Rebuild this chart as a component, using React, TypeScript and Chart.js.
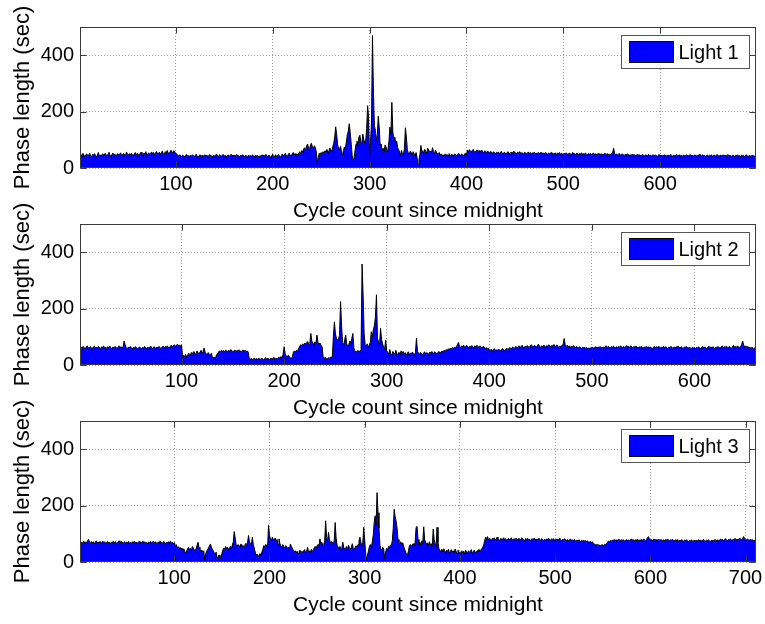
import React, { useEffect, useRef } from 'react';
import { Chart, registerables } from 'chart.js';

Chart.register(...registerables);

// Phase length (sec) of each signal cycle, one value per cycle since midnight.
const light1 = [
  44,48,41,52,46,39,47,50,43,45,53,42,40,49,46,51,44,38,47,55,43,46,41,50,48,
  45,52,47,43,49,56,44,41,48,53,46,50,42,47,51,45,49,54,43,48,52,46,44,57,49,
  47,51,45,53,48,44,50,55,46,52,49,43,51,56,47,45,53,50,58,46,49,54,48,52,57,
  50,55,47,53,59,49,52,56,48,54,60,51,47,58,53,62,55,50,57,63,54,58,61,56,52,
  49,45,42,47,44,40,46,43,39,45,48,42,44,38,46,41,47,43,40,45,49,42,38,44,47,
  41,45,39,43,47,42,46,40,44,48,41,43,39,46,42,45,50,43,40,47,44,41,46,48,42,
  45,39,43,47,41,44,49,42,46,40,45,43,48,41,44,39,46,42,47,44,40,45,43,38,46,
  42,44,40,47,43,39,45,41,46,42,38,44,40,47,43,45,41,48,44,39,46,42,37,44,49,
  35,42,47,40,44,49,41,38,45,50,43,47,52,44,40,48,53,46,42,49,55,47,51,45,50,
  44,53,58,49,62,55,68,72,60,78,85,70,66,82,88,74,69,79,72,58,16,38,52,47,55,
  49,58,53,61,57,66,52,60,71,64,58,75,88,110,146,120,82,70,65,78,58,45,62,74,68,
  92,118,130,157,126,88,45,28,35,62,85,95,78,110,116,92,85,120,102,88,96,140,221,180,30,
  95,160,470,265,150,133,98,118,184,142,78,85,62,70,55,82,74,60,68,95,145,120,233,130,98,
  110,88,95,72,65,58,45,62,50,48,70,143,110,65,52,48,60,55,45,58,50,42,55,38,10,
  30,48,80,55,62,50,66,58,52,70,64,56,60,55,72,58,50,63,56,52,49,55,45,50,44,
  47,42,50,45,48,43,51,46,44,49,41,47,50,45,43,48,52,46,44,50,47,42,49,53,45,
  63,58,65,60,57,62,66,59,55,61,64,58,62,56,60,63,57,54,61,58,55,60,57,53,59,
  55,52,58,54,50,56,53,57,51,55,59,52,50,56,54,49,55,58,52,50,57,53,55,60,52,
  54,50,56,53,58,51,55,52,49,56,54,50,53,57,51,55,48,54,52,56,50,53,49,55,51,
  53,56,50,54,49,52,55,51,48,54,50,53,56,49,52,50,54,47,53,51,55,49,52,50,48,
  52,49,54,50,47,53,51,48,52,55,49,51,46,53,50,48,52,49,54,47,51,50,53,48,46,
  51,49,52,47,50,53,48,51,46,50,49,52,47,51,48,45,50,53,47,49,51,46,50,48,52,
  55,70,52,47,50,46,49,51,45,48,50,47,44,49,46,50,48,45,47,44,49,46,48,43,47,
  45,49,44,47,43,46,48,44,42,47,45,43,48,44,46,42,45,47,43,46,44,41,45,48,43,
  46,42,45,44,47,41,45,43,46,42,48,44,41,46,43,45,49,42,44,47,43,45,41,46,44,
  42,47,44,45,41,48,43,46,42,44,47,41,45,43,46,50,44,42,47,43,45,41,44,46,42,
  45,43,47,41,44,46,42,45,48,43,41,46,44,42,47,43,45,41,44,48,42,45,43,40,46,
  44,41,45,43,47,42,44,40,46,43,45,41,44,47,42,40,45,43,41,46,42,44,40,38,
];

const light2 = [
  60,64,58,66,62,57,63,68,61,59,65,62,58,64,67,60,63,59,66,61,57,64,62,68,60,
  63,59,65,61,67,62,58,64,60,66,63,59,62,68,61,65,60,64,85,72,62,58,63,60,66,
  61,57,63,59,65,62,58,60,64,61,57,63,59,66,62,58,64,60,63,67,61,58,65,62,59,
  64,60,66,62,58,63,67,61,65,62,68,64,60,66,70,65,68,72,66,70,74,68,71,66,72,
  28,34,30,38,26,35,42,33,40,45,38,48,42,36,50,44,39,46,52,43,48,60,45,40,36,
  44,38,33,42,30,25,28,22,35,40,46,50,48,52,49,51,47,53,50,48,52,49,55,51,47,
  50,53,48,52,49,54,50,47,51,53,49,52,48,50,46,22,20,24,18,21,25,19,23,20,24,
  22,19,25,21,18,23,26,20,24,22,19,25,21,23,27,20,24,22,26,28,23,30,25,38,65,
  40,32,28,35,30,26,22,30,45,50,46,52,48,58,65,72,68,75,70,78,74,80,83,72,76,
  112,85,78,70,82,75,106,80,74,78,70,65,30,22,28,24,20,26,23,28,25,32,100,153,110,
  95,88,92,105,225,140,80,70,88,106,75,66,72,85,78,95,112,60,50,45,48,52,46,50,55,
  358,245,110,72,68,75,65,70,80,118,100,125,140,170,249,95,82,70,130,90,75,62,58,88,50,
  45,38,55,40,35,48,42,38,52,36,40,45,34,50,42,48,38,44,36,41,47,35,43,39,46,
  40,37,44,95,48,42,38,45,40,36,43,47,39,44,41,38,46,42,48,40,44,47,43,39,45,
  48,42,46,50,44,52,48,55,50,58,54,60,56,62,58,64,60,66,72,80,65,62,68,64,70,
  62,66,70,64,60,67,63,69,65,61,68,64,70,66,62,68,64,60,66,63,58,62,56,60,54,
  52,56,50,55,58,52,54,50,57,53,51,55,58,54,52,56,60,55,58,62,57,61,64,58,62,
  66,60,64,68,62,66,70,64,60,67,63,69,65,62,68,72,66,64,70,67,63,69,74,66,62,
  68,65,71,67,63,69,66,72,68,64,70,67,73,65,69,71,66,62,68,64,70,74,94,72,66,
  70,64,68,62,67,63,69,65,61,66,63,60,65,62,58,64,60,63,59,62,57,61,58,62,60,
  63,59,62,65,60,64,61,66,62,59,64,61,65,68,62,66,63,60,65,62,67,64,60,65,62,
  66,63,68,64,61,66,62,65,69,63,66,62,68,64,61,66,63,67,64,60,65,62,66,63,59,
  64,61,66,62,65,60,64,61,58,63,66,62,65,61,67,63,60,64,62,66,61,65,62,58,64,
  61,66,63,59,64,61,65,62,67,63,60,65,62,58,64,61,66,62,59,64,60,57,63,60,62,
  58,63,60,65,61,57,62,66,60,64,61,58,63,67,61,64,60,65,62,58,64,61,66,62,59,
  64,68,61,65,62,67,63,60,66,62,58,64,70,63,66,62,68,64,60,66,72,85,70,64,68,
  62,66,60,64,58,63,60,55,62,52,
];

const light3 = [
  68,72,65,70,74,66,71,69,75,81,70,66,73,68,72,64,70,75,67,71,69,73,66,70,74,
  68,72,65,69,73,67,71,64,70,68,74,66,72,69,65,71,75,67,70,73,66,69,72,64,71,
  68,73,66,70,65,72,68,74,67,71,66,69,73,65,70,68,75,67,72,66,70,64,71,68,73,
  67,70,74,66,72,68,65,71,69,75,67,70,66,73,69,64,71,67,72,68,74,66,70,65,69,
  58,62,50,55,48,52,45,50,42,47,38,30,40,46,52,44,48,41,55,50,44,39,48,60,70,
  52,45,38,42,35,40,6,30,38,44,50,58,64,52,45,40,32,28,35,12,18,25,15,12,30,
  42,50,45,55,48,52,44,50,56,46,60,72,108,85,60,55,62,58,52,64,56,60,50,58,66,
  62,70,94,72,65,60,88,62,50,35,23,28,20,25,30,22,35,45,58,55,62,60,50,131,95,
  82,75,88,80,78,85,72,80,60,82,65,58,52,62,55,50,58,56,48,52,45,64,55,50,42,
  35,40,32,38,30,36,42,33,38,35,40,44,32,38,52,36,40,34,45,38,42,50,55,48,58,
  62,56,82,65,70,58,62,75,146,88,72,105,80,68,72,70,62,75,140,85,60,52,48,55,45,
  50,70,52,45,48,55,42,60,50,46,52,65,48,44,52,58,50,62,75,88,70,55,68,123,80,
  30,6,25,40,55,62,50,72,95,140,164,130,246,175,120,60,47,40,52,45,12,35,48,42,55,
  50,60,58,75,120,187,160,146,120,80,70,65,72,60,68,55,45,35,30,23,40,58,62,55,60,
  65,58,70,123,126,80,62,70,58,75,66,125,80,70,62,68,58,72,60,65,55,117,80,65,52,
  123,70,48,42,35,45,38,47,40,32,42,36,45,30,38,44,35,40,33,46,38,30,42,36,30,
  35,40,32,38,28,42,36,30,40,34,38,44,30,36,42,35,32,40,38,45,36,42,48,52,60,
  75,88,82,90,78,85,80,76,84,79,86,81,77,88,83,80,75,84,78,82,86,79,83,77,81,
  84,78,82,86,80,76,83,79,85,81,77,84,80,78,86,82,79,75,83,80,84,78,82,76,80,
  83,79,85,81,77,82,78,84,80,76,83,79,75,81,77,82,78,85,80,76,82,79,83,77,80,
  78,82,76,80,84,79,75,81,77,83,79,76,80,74,78,82,76,79,75,80,77,73,78,75,79,
  76,72,77,74,78,73,76,71,75,72,70,74,68,72,66,64,62,60,63,58,61,59,57,62,60,
  58,63,61,66,70,74,72,76,73,78,75,80,76,79,74,78,81,77,75,80,76,79,73,77,80,
  76,79,74,78,82,77,80,75,79,76,81,78,74,79,77,80,76,82,78,75,80,86,90,82,78,
  80,76,79,82,77,80,75,79,81,76,80,78,74,79,76,80,77,82,78,75,79,76,81,77,74,
  79,76,80,77,74,78,75,80,76,73,78,75,79,76,72,77,74,79,75,72,78,74,77,73,76,
  79,75,78,74,77,80,76,73,78,75,79,76,72,77,74,78,75,80,76,73,79,75,78,82,77,
  80,76,79,83,78,75,80,77,82,79,76,81,78,84,80,77,82,79,85,81,78,83,90,84,80,
  78,82,79,76,81,77,80,75,78,74,76,
];

const seriesLabels = ['Light 1', 'Light 2', 'Light 3'];
const xTicksPerPanel = [
  [100, 200, 300, 400, 500, 600],
  [100, 200, 300, 400, 500, 600],
  [100, 200, 300, 400, 500, 600, 700],
];
const yTicks = [0, 200, 400];
const yLimit = 500;
const xTitle = 'Cycle count since midnight';
const yTitle = 'Phase length (sec)';

const FONT = '"Liberation Sans", Arial, Helvetica, sans-serif';
const CANVAS_W = 765;
const CANVAS_H = 230;
const PANEL_STEP = 197;

// Axes box, inward tick marks on all four sides, and the in-plot legend.
const axesFrame = {
  id: 'axesFrame',
  afterDatasetsDraw(chart: any) {
    const { ctx, chartArea: a, scales } = chart;
    const L = Math.round(a.left) + 0.5;
    const R = Math.round(a.right) - 0.5;
    const T = Math.round(a.top) + 0.5;
    const B = Math.round(a.bottom) - 0.5;
    const tl = 6;
    ctx.save();
    ctx.lineWidth = 1;
    ctx.strokeStyle = '#3a3a3a';
    ctx.beginPath();
    scales.x.ticks.forEach((t: any) => {
      const px = Math.round(scales.x.getPixelForValue(t.value)) + 0.5;
      ctx.moveTo(px, B);
      ctx.lineTo(px, B - tl);
      ctx.moveTo(px, T);
      ctx.lineTo(px, T + tl);
    });
    scales.y.ticks.forEach((t: any) => {
      const py = Math.round(scales.y.getPixelForValue(t.value)) + 0.5;
      ctx.moveTo(L, py);
      ctx.lineTo(L + tl, py);
      ctx.moveTo(R, py);
      ctx.lineTo(R - tl, py);
    });
    ctx.stroke();
    ctx.strokeRect(L, T, R - L, B - T);

    // legend
    const label = chart.data.datasets[0].label;
    const bw = 128;
    const bh = 33;
    const bx = Math.round(a.right - 7 - bw) + 0.5;
    const by = Math.round(a.top + 8) + 0.5;
    ctx.fillStyle = '#ffffff';
    ctx.fillRect(bx, by, bw, bh);
    ctx.strokeStyle = '#555555';
    ctx.strokeRect(bx, by, bw, bh);
    ctx.fillStyle = '#0000ff';
    ctx.fillRect(bx + 8, by + 6, 44, 21);
    ctx.strokeStyle = '#000000';
    ctx.strokeRect(bx + 8, by + 6, 44, 21);
    ctx.fillStyle = '#000000';
    ctx.font = `20px ${FONT}`;
    ctx.textAlign = 'left';
    ctx.textBaseline = 'middle';
    ctx.fillText(label, bx + 57, by + bh / 2 + 1);
    ctx.restore();
  },
};

function Panel({ values, label, xTicks, top }: { values: number[]; label: string; xTicks: number[]; top: number }) {
  const ref = useRef<HTMLCanvasElement>(null);

  useEffect(() => {
    const canvas = ref.current;
    if (!canvas) return;
    const gridStyle = { color: '#9a9a9a', lineWidth: 1, drawTicks: false };
    const borderStyle = { display: false, dash: [1, 2] };
    const chart = new Chart(canvas, {
      type: 'line',
      data: {
        datasets: [
          {
            label,
            data: values.map((v, i) => ({ x: i + 1, y: v })),
            fill: 'origin',
            backgroundColor: '#0000ff',
            borderColor: '#000000',
            borderWidth: 1,
            pointRadius: 0,
            tension: 0,
          },
        ],
      },
      options: {
        responsive: false,
        animation: false,
        events: [],
        layout: { padding: { top: 27, right: 9, left: 0, bottom: 0 } },
        plugins: { legend: { display: false }, tooltip: { enabled: false } },
        scales: {
          x: {
            type: 'linear',
            min: 1,
            max: values.length,
            afterBuildTicks: (s: any) => {
              s.ticks = xTicks.map((v) => ({ value: v }));
            },
            afterFit: (s: any) => {
              s.height = 62;
              s.paddingLeft = 0;
              s.paddingRight = 0;
            },
            grid: gridStyle,
            border: borderStyle,
            ticks: {
              font: { family: FONT, size: 20 },
              color: '#000000',
              padding: 4,
              maxRotation: 0,
              autoSkip: false,
              callback: (v: any) => String(v),
            },
            title: {
              display: true,
              text: xTitle,
              color: '#000000',
              font: { family: FONT, size: 21, lineHeight: 1 },
              padding: { top: 0, bottom: 8 },
            },
          },
          y: {
            type: 'linear',
            min: 0,
            max: yLimit,
            afterBuildTicks: (s: any) => {
              s.ticks = yTicks.map((v) => ({ value: v }));
            },
            afterFit: (s: any) => {
              s.width = 80;
            },
            grid: gridStyle,
            border: borderStyle,
            ticks: {
              font: { family: FONT, size: 20 },
              color: '#000000',
              padding: 6,
              autoSkip: false,
              callback: (v: any) => String(v),
            },
            title: {
              display: true,
              text: yTitle,
              color: '#000000',
              font: { family: FONT, size: 22, lineHeight: 1 },
              padding: { top: 12, bottom: 0 },
            },
          },
        },
      },
      plugins: [axesFrame],
    } as any);
    return () => chart.destroy();
  }, [values, label, xTicks]);

  return (
    <canvas
      ref={ref}
      width={CANVAS_W}
      height={CANVAS_H}
      style={{ position: 'absolute', left: 0, top, width: CANVAS_W, height: CANVAS_H, display: 'block' }}
    />
  );
}

export default function App() {
  const series = [light1, light2, light3];
  return (
    <div style={{ position: 'fixed', left: 0, top: 0, width: CANVAS_W, height: 624, background: '#ffffff', overflow: 'hidden' }}>
      {series.map((values, i) => (
        <Panel key={seriesLabels[i]} values={values} label={seriesLabels[i]} xTicks={xTicksPerPanel[i]} top={i * PANEL_STEP} />
      ))}
    </div>
  );
}
